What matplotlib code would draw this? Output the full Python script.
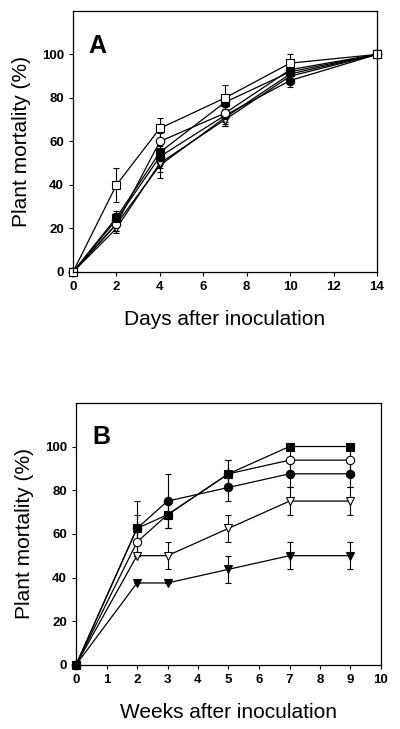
import matplotlib
matplotlib.use("Agg")
import matplotlib.pyplot as plt

plt.rcParams['font.family'] = ['Liberation Sans', 'DejaVu Sans']

# Panel A - days after inoculation
days = [0, 2, 4, 7, 10, 14]
a_open_square = [0, 40, 66, 80, 96, 100]
a_open_square_err = [0, 8, 5, 6, 4, 0]
a_filled_square = [0, 25, 55, 78, 92, 100]
a_filled_square_err = [0, 3, 4, 4, 3, 0]
a_open_circle = [0, 22, 60, 73, 93, 100]
a_open_circle_err = [0, 3, 4, 4, 3, 0]
a_filled_circle = [0, 24, 53, 72, 88, 100]
a_filled_circle_err = [0, 3, 5, 4, 3, 0]
a_open_tri = [0, 20, 50, 70, 90, 100]
a_open_tri_err = [0, 2, 4, 3, 3, 0]
a_filled_tri = [0, 22, 49, 71, 91, 100]
a_filled_tri_err = [0, 3, 6, 4, 4, 0]

# Panel B - weeks after inoculation
weeks = [0, 2, 3, 5, 7, 9]
b_filled_square = [0, 62.5, 68.75, 87.5, 100, 100]
b_filled_square_err = [0, 6.25, 6.25, 6.25, 0, 0]
b_open_circle = [0, 56.25, 68.75, 87.5, 93.75, 93.75]
b_open_circle_err = [0, 6.25, 6.25, 6.25, 6.25, 6.25]
b_filled_circle = [0, 62.5, 75, 81.25, 87.5, 87.5]
b_filled_circle_err = [0, 12.5, 12.5, 6.25, 6.25, 6.25]
b_open_tri = [0, 50, 50, 62.5, 75, 75]
b_open_tri_err = [0, 0, 6.25, 6.25, 6.25, 6.25]
b_filled_tri = [0, 37.5, 37.5, 43.75, 50, 50]
b_filled_tri_err = [0, 0, 0, 6.25, 6.25, 6.25]

fig = plt.figure(figsize=(4, 7.29), dpi=100)
ax1 = fig.add_axes([0.1825, 0.627, 0.76, 0.358])
ax2 = fig.add_axes([0.19, 0.088, 0.7625, 0.3594])


def draw(ax, x, y, err, marker, filled):
    face = "black" if filled else "white"
    line = ax.errorbar(x, y, yerr=err, color="black", lw=0.9, elinewidth=0.8,
                       capsize=2.5, capthick=0.8, marker=marker, markersize=6,
                       markerfacecolor=face, markeredgecolor="black",
                       markeredgewidth=0.8)
    line[0].set_clip_on(False)


draw(ax1, days, a_filled_tri, a_filled_tri_err, "v", True)
draw(ax1, days, a_open_tri, a_open_tri_err, "v", False)
draw(ax1, days, a_filled_circle, a_filled_circle_err, "o", True)
draw(ax1, days, a_open_circle, a_open_circle_err, "o", False)
draw(ax1, days, a_filled_square, a_filled_square_err, "s", True)
draw(ax1, days, a_open_square, a_open_square_err, "s", False)

draw(ax2, weeks, b_filled_tri, b_filled_tri_err, "v", True)
draw(ax2, weeks, b_open_tri, b_open_tri_err, "v", False)
draw(ax2, weeks, b_filled_circle, b_filled_circle_err, "o", True)
draw(ax2, weeks, b_open_circle, b_open_circle_err, "o", False)
draw(ax2, weeks, b_filled_square, b_filled_square_err, "s", True)

for ax, xmax, label, xlab, lx, ly in [
        (ax1, 14, "A", "Days after inoculation", 0.05, 0.839),
        (ax2, 10, "B", "Weeks after inoculation", 0.053, 0.844)]:
    ax.set_xlim(0, xmax)
    ax.set_ylim(0, 120)
    ax.set_yticks(range(0, 101, 20))
    ax.tick_params(direction="out", length=3, width=0.8, labelsize=9.5)
    for t in ax.get_xticklabels() + ax.get_yticklabels():
        t.set_fontweight("bold")
    for s in ax.spines.values():
        s.set_linewidth(0.9)
    ax.set_ylabel("Plant mortality (%)", fontsize=15, labelpad=8)
    ax.set_xlabel(xlab, fontsize=15, labelpad=12)
    ax.text(lx, ly, label, transform=ax.transAxes, fontsize=18,
            fontweight="bold", va="baseline")

ax1.set_xticks(range(0, 15, 2))
ax2.set_xticks(range(0, 11, 1))

fig.savefig("out.png", dpi=100)
